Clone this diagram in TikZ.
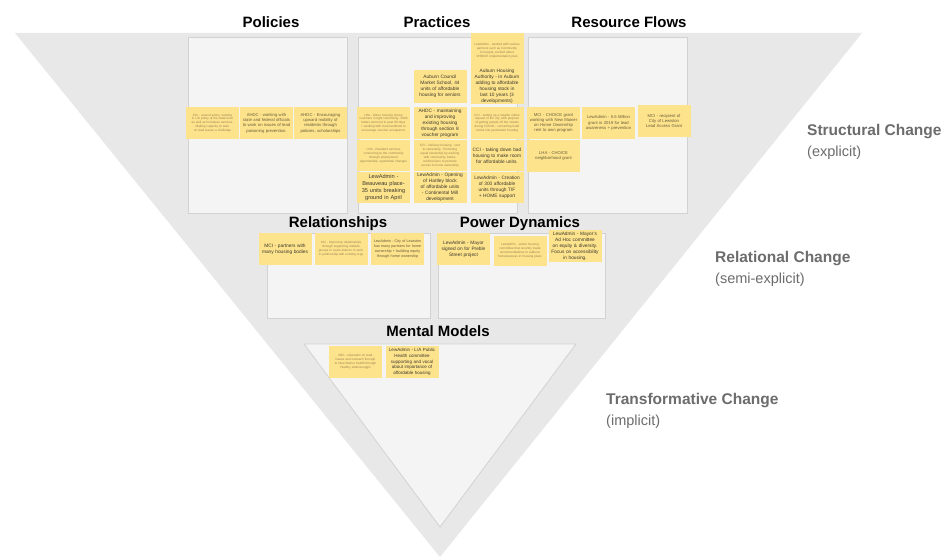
\documentclass[tikz,border=0pt]{standalone}
\usepackage{fontspec}
\setmainfont{Liberation Sans}
\hyphenpenalty=10000
\exhyphenpenalty=10000
\definecolor{trigray}{RGB}{232,232,232}
\definecolor{boxfill}{RGB}{244,244,244}
\definecolor{boxdraw}{RGB}{210,210,210}
\definecolor{noteyellow}{RGB}{253,227,140}
\definecolor{tinytext}{RGB}{150,130,85}
\definecolor{midtext}{RGB}{105,92,60}
\definecolor{darktext}{RGB}{60,56,45}
\definecolor{labelgray}{RGB}{108,108,108}
\begin{document}
\begin{tikzpicture}[x=1pt,y=-1pt,
  panel/.style={draw=boxdraw, fill=boxfill, line width=0.8pt, inner sep=0pt},
  sticky/.style={fill=noteyellow, minimum width=53pt, minimum height=32pt, text width=49pt, align=center, inner sep=0pt},
  tinynote/.style={sticky, font=\fontsize{3.1}{3.9}\selectfont, text=tinytext},
  midnote/.style={sticky, font=\fontsize{4.2}{5.3}\selectfont, text=midtext},
  darknote/.style={sticky, font=\fontsize{4.8}{6.1}\selectfont, text=darktext},
  title/.style={font=\fontsize{15}{18}\selectfont\bfseries, text=black, inner sep=0pt},
  sidelabel/.style={font=\fontsize{15.5}{18}\selectfont\bfseries, text=labelgray, anchor=west, inner sep=0pt},
  sidesub/.style={font=\fontsize{14.5}{18}\selectfont, text=labelgray, anchor=west, inner sep=0pt}]
\path[use as bounding box] (0,0) rectangle (949,559);
\fill[white] (0,0) rectangle (949,559);
% outer triangle
\fill[trigray] (15,33) -- (862,33) -- (440,557) -- cycle;

% titles
\node[title] (tpol) at (271,22) {Policies};
\node[title] (tpra) at (437,22) {Practices};
\node[title] (tres) at (629,22) {Resource Flows};
\node[title] (trel) at (338,224) {Relationships};
\node[title] (tpow) at (520,224) {Power Dynamics};
\node[title] (tmen) at (438,331) {Mental Models};

% panels
\node[panel, minimum width=159pt, minimum height=176pt] (polbox) at (267.5,125) {};
\node[panel, minimum width=159pt, minimum height=176pt] (prabox) at (437.5,125) {};
\node[panel, minimum width=159pt, minimum height=176pt] (resbox) at (607.5,125) {};
\node[panel, minimum width=163pt, minimum height=85pt] (relbox) at (348.5,275.5) {};
\node[panel, minimum width=167pt, minimum height=85pt] (powbox) at (521.5,275.5) {};
\draw[draw=boxdraw, fill=boxfill, line width=0.8pt] (304,344) -- (576,344) -- (440,527) -- cycle;

% Policies notes
\node[tinynote] (pol1) at (212.5,123) {CCI - around policy, working in L/A policy at the state level as well as homeless services. Making capacity to work on lead issues a challenge};
\node[midnote] (pol2) at (266.5,123) {AHDC - working with state and federal officials to work on issues of lead poisoning prevention.};
\node[midnote] (pol3) at (320.5,123) {AHDC - Encouraging upward mobility of residents through policies, scholarships};

% Practices notes
\node[darknote, minimum height=33pt] (pra1) at (440,86.5) {Auburn Council Market School, 44 units of affordable housing for seniors};
\node[tinynote] (pra2) at (383.5,123) {LHA - Minor housing choice vouchers in tight community. 5000 letters went out in past 90 days + working with local landlords to encourage voucher acceptance};
\node[darknote] (pra3) at (440,123) {AHDC - maintaining and improving existing housing through section 8 voucher program};
\node[tinynote, minimum height=31pt] (pra4) at (383.5,155.5) {LHA - Resident services connecting to the community through employment opportunities, systematic changes};
\node[tinynote, minimum height=31pt] (pra5) at (440,155.5) {CCI - Delivery housing - rent to ownership. Promoting equal ownership by working with community, banks, credit unions to promote access to home ownership};
\node[darknote, font=\fontsize{5.6}{7}\selectfont, minimum height=31pt] (pra6) at (383.5,187.5) {LewAdmin - Beauveau place- 35 units breaking ground in April};
\node[darknote, minimum height=31pt] (pra7) at (440,187.5) {LewAdmin - Opening of Hartley block of affordable units - Continental Mill development};
\node[tinynote, minimum height=36pt] (pra8) at (497,51) {LewAdmin - worked with various partners such as Community Concepts, excited about CHOICE implementation plan};
\node[darknote, minimum height=33pt] (pra9) at (497,86.5) {Auburn Housing Authority - in Auburn adding to affordable housing stock in last 10 years (3 developments)};
\node[tinynote] (pra10) at (497,123) {CCI - setting up a smaller online request of the city, with purpose of getting people off the streets during COVID - converting hotel rooms into permanent housing};
\node[darknote, minimum height=31pt] (pra11) at (497,155.5) {CCI - taking down bad housing to make room for affordable units.};
\node[darknote, minimum height=31pt] (pra12) at (497,187.5) {LewAdmin - Creation of 300 affordable units through TIF + HOME support};

% Resource Flows notes
\node[midnote] (res1) at (553.5,123) {MCI - CHOICE grant working with New Mainer on Home Ownership rent to own program};
\node[midnote] (res2) at (608.5,123) {LewAdmin - 5.5 Million grant in 2019 for lead awareness + prevention};
\node[midnote] (res3) at (664,121) {MCI - recipient of City of Lewiston Lead Access Grant};
\node[midnote] (res4) at (553.5,156) {LHA - CHOICE neighborhood grant};

% Relationships notes
\node[darknote] (rel1) at (285,249) {MCI - partners with many housing bodies};
\node[tinynote] (rel2) at (341,249) {CCI - improving relationships through supporting website groups in Lewis-Auburn to work in partnership with existing orgs};
\node[midnote, font=\fontsize{3.7}{4.7}\selectfont] (rel3) at (397.5,249) {LewAdmin - City of Lewiston has many partners for home ownership + building equity through home ownership};

% Power Dynamics notes
\node[darknote] (pow1) at (463.5,249) {LewAdmin - Mayor signed on for Preble Street project};
\node[tinynote, minimum height=30pt] (pow2) at (520,251) {LewAdmin - active housing committee that recently made recommendations to address homelessness in housing plans};
\node[darknote] (pow3) at (575,246) {LewAdmin - Mayor's Ad Hoc committee on equity \& diversity. Focus on accessibility in housing.};

% Mental Models notes
\node[tinynote] (mm1) at (355.5,362) {MCI - education on lead issues and outreach through to New Mainer health through Healthy Androscoggin};
\node[darknote, font=\fontsize{4.5}{5.8}\selectfont] (mm2) at (412,362) {LewAdmin - L/A Public Health committee supporting and vocal about importance of affordable housing};

% side labels
\node[sidelabel] (lstr) at (807,132) {Structural Change};
\node[sidesub] (lstrs) at (807,153) {(explicit)};
\node[sidelabel] (lrel) at (715,259) {Relational Change};
\node[sidesub] (lrels) at (715,280) {(semi-explicit)};
\node[sidelabel] (ltra) at (606,401) {Transformative Change};
\node[sidesub] (ltras) at (606,422) {(implicit)};
\end{tikzpicture}
\end{document}
